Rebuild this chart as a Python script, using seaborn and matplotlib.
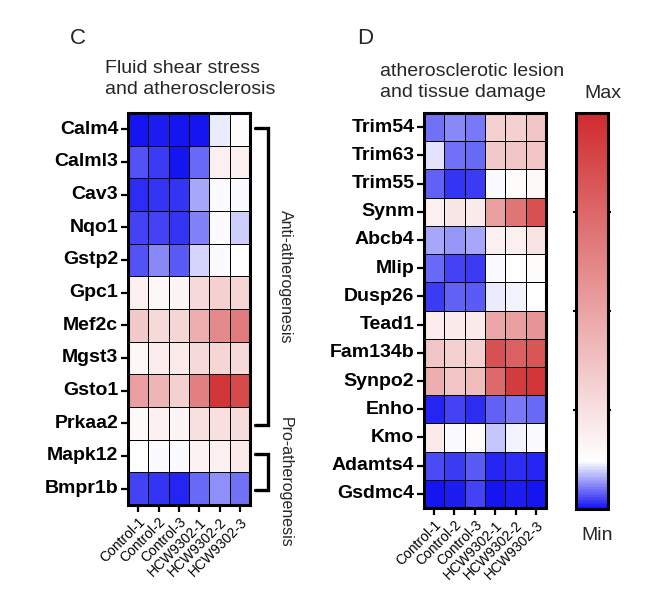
import numpy as np
import pandas as pd
import matplotlib
matplotlib.use("Agg")
import matplotlib.pyplot as plt
import seaborn as sns
from matplotlib.colors import LinearSegmentedColormap, FuncNorm

sns.set_theme(style="white")
plt.rcParams['font.family'] = ['Liberation Sans', 'DejaVu Sans']

samples = ["Control-1", "Control-2", "Control-3", "HCW9302-1", "HCW9302-2", "HCW9302-3"]

genes_c = ["Calm4", "Calml3", "Cav3", "Nqo1", "Gstp2", "Gpc1", "Mef2c", "Mgst3",
           "Gsto1", "Prkaa2", "Mapk12", "Bmpr1b"]
# relative expression: -1 = Min (blue), 0 = white, 1 = Max (red)
calm4 = [-1.00, -0.95, -1.00, -1.00, -0.08, 0.02]
calml3 = [-0.72, -0.82, -0.98, -0.62, 0.08, 0.08]
cav3 = [-0.88, -0.85, -0.86, -0.38, 0.00, 0.00]
nqo1 = [-0.80, -0.78, -0.85, -0.52, 0.00, -0.20]
gstp2 = [-0.72, -0.50, -0.68, -0.16, 0.00, 0.01]
gpc1 = [0.08, 0.04, 0.05, 0.18, 0.22, 0.20]
mef2c = [0.25, 0.18, 0.20, 0.38, 0.55, 0.62]
mgst3 = [0.04, 0.09, 0.10, 0.18, 0.20, 0.18]
gsto1 = [0.45, 0.35, 0.22, 0.60, 0.95, 0.85]
prkaa2 = [0.03, 0.07, 0.05, 0.15, 0.15, 0.16]
mapk12 = [0.01, 0.00, 0.00, 0.06, 0.08, 0.10]
bmpr1b = [-0.80, -0.85, -0.92, -0.62, -0.45, -0.58]

genes_d = ["Trim54", "Trim63", "Trim55", "Synm", "Abcb4", "Mlip", "Dusp26", "Tead1",
           "Fam134b", "Synpo2", "Enho", "Kmo", "Adamts4", "Gsdmc4"]
trim54 = [-0.60, -0.50, -0.55, 0.22, 0.22, 0.28]
trim63 = [-0.12, -0.60, -0.62, 0.25, 0.27, 0.27]
trim55 = [-0.65, -0.85, -0.82, 0.00, 0.02, 0.03]
synm = [0.08, 0.12, 0.10, 0.45, 0.65, 0.82]
abcb4 = [-0.35, -0.42, -0.35, 0.08, 0.08, 0.13]
mlip = [-0.62, -0.80, -0.82, 0.00, 0.01, 0.02]
dusp26 = [-0.82, -0.65, -0.70, -0.08, -0.04, 0.01]
tead1 = [0.09, 0.10, 0.10, 0.42, 0.45, 0.50]
fam134b = [0.27, 0.22, 0.22, 0.82, 0.75, 0.80]
synpo2 = [0.38, 0.28, 0.32, 0.70, 0.92, 0.95]
enho = [-0.92, -0.80, -0.88, -0.65, -0.55, -0.62]
kmo = [0.10, 0.00, 0.02, -0.25, -0.05, 0.00]
adamts4 = [-0.75, -0.82, -0.68, -0.92, -0.90, -0.92]
gsdmc4 = [-0.98, -0.95, -0.78, -0.98, -0.95, -0.98]

df_c = pd.DataFrame([calm4, calml3, cav3, nqo1, gstp2, gpc1, mef2c, mgst3, gsto1,
                     prkaa2, mapk12, bmpr1b], index=genes_c, columns=samples)
df_d = pd.DataFrame([trim54, trim63, trim55, synm, abcb4, mlip, dusp26, tead1, fam134b,
                     synpo2, enho, kmo, adamts4, gsdmc4], index=genes_d, columns=samples)

WHITE_POS = 0.12
cmap = LinearSegmentedColormap.from_list(
    "bwr_custom", [(0.0, "#1515F2"), (WHITE_POS, "#FFFFFF"), (1.0, "#CF2B2D")])


def fwd(x):
    x = np.asarray(x, dtype=float)
    return np.where(x < 0, WHITE_POS * (x + 1), WHITE_POS + (1 - WHITE_POS) * x)


def inv(y):
    y = np.asarray(y, dtype=float)
    return np.where(y < WHITE_POS, y / WHITE_POS - 1, (y - WHITE_POS) / (1 - WHITE_POS))


W, H = 663, 596
fig = plt.figure(figsize=(W / 100, H / 100), dpi=100)


def ax_box(x0, y0, x1, y1):
    return [x0 / W, 1 - y1 / H, (x1 - x0) / W, (y1 - y0) / H]


ax_c = fig.add_axes(ax_box(128, 113, 250, 505))
ax_d = fig.add_axes(ax_box(424, 113, 546, 508))
cax = fig.add_axes(ax_box(576, 113, 608, 509))

for ax, df in [(ax_c, df_c), (ax_d, df_d)]:
    sns.heatmap(df, ax=ax, cmap=cmap, norm=FuncNorm((fwd, inv), vmin=-1, vmax=1),
                cbar=False, linewidths=0.6, linecolor="black", square=False)
    for sp in ax.spines.values():
        sp.set_visible(True)
        sp.set_linewidth(2.2)
        sp.set_color("black")
    ax.tick_params(axis="both", which="both", length=5, width=1.6, color="black",
                   left=True, bottom=True, pad=2)
    ax.set_yticklabels(df.index, rotation=0, fontsize=14, fontweight="bold", color="black")
    ax.set_xticklabels(df.columns, rotation=45, ha="right", rotation_mode="anchor",
                       fontsize=10, color="black")
    ax.set_xlabel("")
    ax.set_ylabel("")

# colorbar
cb = fig.colorbar(ax_c.collections[0], cax=cax)
cb.outline.set_linewidth(2.2)
cb.outline.set_edgecolor("black")
cb.set_ticks([float(inv(0.25)), float(inv(0.5)), float(inv(0.75))])
cb.ax.tick_params(axis="y", which="major", length=4, width=1.5, direction="inout",
                  left=True, right=True, labelleft=False, labelright=False,
                  color="black")
cb.ax.tick_params(axis="y", which="minor", left=False, right=False)

# brackets for panel C
lw = 2.4
ax_c.plot([6.25, 6.9, 6.9, 6.25], [0.45, 0.45, 9.55, 9.55], color="black", lw=lw,
          clip_on=False, solid_joinstyle="miter")
ax_c.plot([6.25, 6.9, 6.9, 6.25], [10.45, 10.45, 11.55, 11.55], color="black", lw=lw,
          clip_on=False, solid_joinstyle="miter")
ax_c.text(7.75, 5.0, "Anti-atherogenesis", rotation=-90, ha="center", va="center",
          fontsize=11.5, clip_on=False)
ax_c.text(7.75, 11.3, "Pro-atherogenesis", rotation=-90, ha="center", va="center",
          fontsize=11.5, clip_on=False)

# panel letters and titles
fig.text(70 / W, 1 - 38 / H, "C", fontsize=16, ha="left", va="center")
fig.text(357 / W, 1 - 38 / H, "D", fontsize=16, ha="left", va="center")
fig.text(105 / W, 1 - 60 / H, "Fluid shear stress\nand atherosclerosis", fontsize=14,
         ha="left", va="top", linespacing=1.3)
fig.text(380 / W, 1 - 63 / H, "atherosclerotic lesion\nand tissue damage", fontsize=14,
         ha="left", va="top", linespacing=1.3)
fig.text(603 / W, 1 - 94 / H, "Max", fontsize=14, ha="center", va="center")
fig.text(597 / W, 1 - 535 / H, "Min", fontsize=14, ha="center", va="center")

fig.savefig("out.png", dpi=100, facecolor="white")
